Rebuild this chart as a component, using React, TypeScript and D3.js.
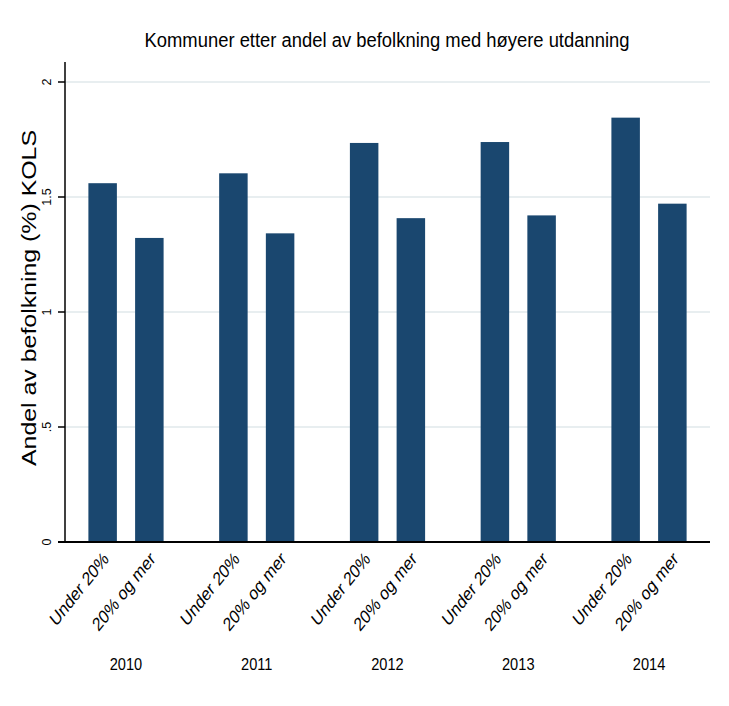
import React from "react";
import * as d3 from "d3";

const years = ["2010", "2011", "2012", "2013", "2014"];
const groups = ["Under 20%", "20% og mer"];
const under20 = [1.56, 1.603, 1.735, 1.739, 1.845];
const over20 = [1.322, 1.342, 1.408, 1.42, 1.471];
const yTicks = [0, 0.5, 1, 1.5, 2];
const yTickLabels = ["0", ".5", "1", "1.5", "2"];
const title = "Kommuner etter andel av befolkning med høyere utdanning";
const yTitle = "Andel av befolkning (%) KOLS";

const W = 729;
const H = 706;
const left = 65;
const right = 710;
const top = 82;
const bottom = 542;
const barColor = "#1a476f";
const font = "'Liberation Sans', Arial, sans-serif";

export default function App() {
  const y = d3.scaleLinear().domain([0, 2]).range([bottom, top]);
  const x0 = d3.scalePoint<string>().domain(years).range([left, right]).padding(0.4665);
  const x1 = d3.scaleBand<string>().domain(groups).range([-37.6, 37.6]).paddingInner(0.39).paddingOuter(0);
  const series = [under20, over20];

  return (
    <svg width={W} height={H} style={{ position: "absolute", left: 0, top: 0, background: "#fff" }}>
      <rect x={0} y={0} width={W} height={H} fill="#fff" />
      <text x={387} y={47} textAnchor="middle" fontFamily={font} fontSize={20}
        textLength={485} lengthAdjust="spacingAndGlyphs" fill="#000">{title}</text>
      {yTicks.slice(1).map((t) => (
        <line key={"g" + t} x1={left} x2={right} y1={y(t)} y2={y(t)} stroke="#e8eef0" strokeWidth={2} />
      ))}
      {years.map((yr, i) =>
        groups.map((g, j) => {
          const v = series[j][i];
          const bx = (x0(yr) as number) + (x1(g) as number);
          return (
            <rect key={yr + g} x={bx} y={y(v)} width={x1.bandwidth()} height={y(0) - y(v)} fill={barColor} />
          );
        })
      )}
      <line x1={left} x2={left} y1={top - 20} y2={bottom} stroke="#000" strokeWidth={1.5} />
      <line x1={left - 7} x2={right} y1={bottom} y2={bottom} stroke="#000" strokeWidth={2} />
      {yTicks.map((t, i) => (
        <g key={"t" + t}>
          <line x1={left - 7} x2={left} y1={y(t)} y2={y(t)} stroke="#000" strokeWidth={1.5} />
          <text transform={`translate(${left - 14},${y(t)}) rotate(-90)`} textAnchor="middle"
            fontFamily={font} fontSize={12.5} fill="#000">{yTickLabels[i]}</text>
        </g>
      ))}
      <text transform={`translate(36,298) scale(0.9,1) rotate(-90)`} textAnchor="middle"
        fontFamily={font} fontSize={23} textLength={336} lengthAdjust="spacingAndGlyphs" fill="#000">{yTitle}</text>
      {years.map((yr) =>
        groups.map((g) => {
          const cx = (x0(yr) as number) + (x1(g) as number) + x1.bandwidth() / 2;
          return (
            <text key={"l" + yr + g} transform={`translate(${cx + 7},${bottom + 18}) scale(0.8,1) rotate(-45)`} textAnchor="end"
              fontFamily={font} fontSize={19} fill="#000">{g}</text>
          );
        })
      )}
      {years.map((yr) => (
        <text key={"y" + yr} transform={`translate(${x0(yr) as number},670) scale(0.86,1)`} textAnchor="middle"
          fontFamily={font} fontSize={17} fill="#000">{yr}</text>
      ))}
    </svg>
  );
}
